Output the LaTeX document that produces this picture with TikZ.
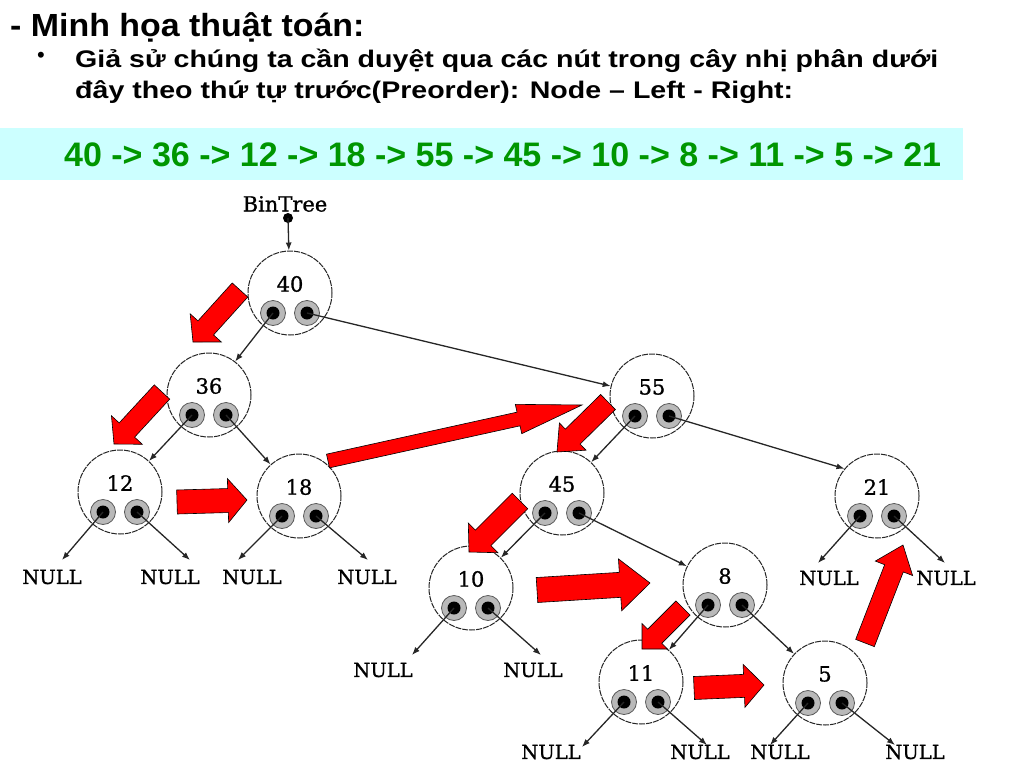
\documentclass[tikz,border=0pt]{standalone}
\usepackage{fontspec}
\setmainfont{Liberation Sans}
\newfontfamily\titlefont[FakeStretch=1.06]{Liberation Sans}
\newfontfamily\bulletfont[FakeStretch=1.19]{Liberation Sans}
\newfontfamily\treefont[FakeBold=1]{DejaVu Serif}
\usetikzlibrary{arrows.meta,calc}

\definecolor{bandcyan}{RGB}{204,255,255}
\definecolor{seqgreen}{RGB}{0,150,0}
\definecolor{eyegray}{RGB}{185,185,185}

% tail, tip, shaft half width, head half width, head length
\newcommand{\redarrow}[5]{%
  \coordinate (ra-base) at ($(#2)!#5!(#1)$);
  \filldraw[redblock] ($(#1)!#3!90:(#2)$) -- ($(ra-base)!#3!-90:(#1)$)
    -- ($(ra-base)!#4!-90:(#1)$) -- (#2) -- ($(ra-base)!#4!90:(#1)$)
    -- ($(ra-base)!#3!90:(#1)$) -- ($(#1)!#3!-90:(#2)$) -- cycle;
}

\begin{document}
\begin{tikzpicture}[x=1pt,y=-1pt]

  \tikzstyle{treenode}=[draw=black!85,circle,line width=1pt,dash pattern=on 6pt off 1pt,minimum size=84pt,inner sep=0pt]
  \tikzstyle{eye}=[draw=black!65,line width=0.8pt,fill=eyegray,circle,minimum size=25pt,inner sep=0pt,
                   path picture={\fill[black] (path picture bounding box.center) circle (6.5pt);}]
  \tikzstyle{numtext}=[font=\treefont\fontsize{21}{21}\selectfont,inner sep=0pt]
  \tikzstyle{nulltext}=[font=\treefont\fontsize{19.5}{19.5}\selectfont,inner sep=0pt]
  \tikzstyle{edge}=[draw=black!85,line width=1.3pt,-{Latex[length=8pt,width=6pt]}]
  \tikzstyle{redblock}=[fill=red,draw=black,line width=0.6pt]
  \tikzstyle{heading}=[font=\bulletfont\bfseries\fontsize{24}{24}\selectfont,inner sep=0pt,anchor=base west]

  \useasboundingbox (0,0) rectangle (1024,768);

  % heading and bullet text
  \node[heading,font=\titlefont\bfseries\fontsize{32}{32}\selectfont] (title) at (10,37) {- Minh họa thuật toán:};
  \node[inner sep=0pt,font=\fontsize{22}{22}\selectfont] (bullet) at (41,57) {•};
  \node[heading] (line-1) at (75,67) {Giả sử chúng ta cần duyệt qua các nút trong cây nhị phân dưới};
  \node[heading] (line-2) at (75,98) {đây theo thứ tự trước(Preorder): Node – Left - Right:};

  % preorder sequence
  \node[fill=bandcyan,anchor=north west,minimum width=963pt,minimum height=52pt,inner sep=0pt] (band) at (0,128) {};
  \node[anchor=west,inner sep=0pt,text=seqgreen,font=\bfseries\fontsize{34}{34}\selectfont] (sequence) at (64,155)
    {40 -> 36 -> 12 -> 18 -> 55 -> 45 -> 10 -> 8 -> 11 -> 5 -> 21};

  % tree nodes
  \foreach \name/\x/\y in {40/290/293, 36/209/395, 12/120/492, 18/299/496,
                           55/652/396, 45/562/493, 21/877/496, 10/471/588,
                           8/725/585, 11/641/682, 5/825/683}
  {
    \node[treenode] (n\name) at (\x,\y) {};
    \node[numtext] at (\x,\y-9) {\name};
    \node[eye] (n\name-l) at (\x-17,\y+20) {};
    \node[eye] (n\name-r) at (\x+17,\y+20) {};
  }

  \node[numtext] (bintree) at (285,204) {BinTree};
  \node[circle,fill=black,minimum size=10pt,inner sep=0pt] (root) at (288,218) {};
  \draw[edge] (root.center) -- (n40);

  \foreach \from/\side/\to in {40/l/n36, 40/r/n55, 36/l/n12, 36/r/n18, 55/l/n45,
                               55/r/n21.140, 45/l/n10, 45/r/n8, 8/l/n11, 8/r/n5}
    \draw[edge] (n\from-\side.center) -- (\to);

  % empty subtrees
  \foreach \parent/\side/\nx/\ny/\tx/\ty in {12/l/52/577/62/560, 12/r/170/577/190/560,
                                             18/l/252/577/238/560, 18/r/367/577/368/560,
                                             21/l/829/578/818/563, 21/r/946/578/945/563,
                                             10/l/383/670/412/655, 10/r/533/670/541/655,
                                             11/l/551/752/582/747, 11/r/700/752/707/745,
                                             5/l/780/752/770/745, 5/r/915/752/895/745}
  {
    \node[nulltext] (null-\parent\side) at (\nx,\ny) {NULL};
    \coordinate (tip-\parent\side) at (\tx,\ty);
    \draw[edge] (n\parent-\side.center) -- (tip-\parent\side);
  }

  % visiting order
  \foreach \hop/\tx/\ty/\hx/\hy/\sw/\hw/\hl in {1/240/290/193/342/10.5pt/21pt/19pt,
                                               2/162/392/114/444/10.5pt/21pt/19pt,
                                               3/177/502/247/500/12pt/22pt/19pt,
                                               4/328/461/582/405/7pt/15pt/65pt,
                                               5/608/402/557/452/10.5pt/19pt/22pt,
                                               6/520/501/469/552/11pt/21pt/20pt,
                                               7/537/590/650/583/12.5pt/26pt/30pt,
                                               8/683/608/642/649/10pt/18pt/18pt,
                                               9/694/688/764/685/11.5pt/21.5pt/20pt,
                                               10/865/643/903/545/10pt/20pt/25pt}
  {
    \coordinate (hop\hop-a) at (\tx,\ty);
    \coordinate (hop\hop-b) at (\hx,\hy);
    \redarrow{hop\hop-a}{hop\hop-b}{\sw}{\hw}{\hl}
  }

\end{tikzpicture}
\end{document}
